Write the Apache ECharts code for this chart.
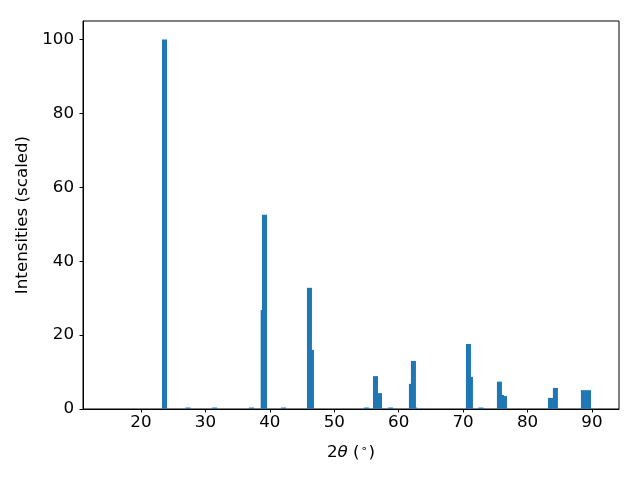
<!DOCTYPE html>
<html>
<head>
<meta charset="utf-8">
<script src="https://cdn.jsdelivr.net/npm/echarts@6/dist/echarts.min.js"></script>
<style>html,body{margin:0;padding:0;background:#fff}#c{width:640px;height:480px}</style>
</head>
<body>
<div id="c"></div>
<script>
var twoTheta = [23.65, 27.3, 31.4, 37.15, 38.97, 39.17, 42.13, 46.15, 46.46, 55.0, 56.4, 57.02, 58.74, 61.98, 62.29, 62.45, 70.83, 71.14, 72.77, 75.64, 75.95, 76.42, 83.56, 84.33, 88.68, 89.46];
var intensity = [100, 0.4, 0.4, 0.4, 26.8, 52.6, 0.4, 32.8, 16.0, 0.4, 8.9, 4.3, 0.4, 6.8, 13.0, 0.4, 17.6, 8.7, 0.4, 7.4, 3.8, 3.5, 3.0, 5.7, 5.1, 5.1];
var xTicks = [20, 30, 40, 50, 60, 70, 80, 90];
var yTicks = [0, 20, 40, 60, 80, 100];

var BAR_W = 0.78;
var idx = twoTheta.map(function (_, i) { return i; });
idx.sort(function (a, b) { return intensity[a] - intensity[b]; });
var data = idx.map(function (i) { return [twoTheta[i], intensity[i]]; });

var font = 'DejaVu Sans';
var FS = 16.7;
var chart = echarts.init(document.getElementById('c'), null, {renderer: 'canvas'});
chart.setOption({
  animation: false,
  backgroundColor: '#fff',
  grid: {left: 83, right: 21, top: 21, bottom: 71, show: true, borderColor: '#000', borderWidth: 1, backgroundColor: 'transparent'},
  xAxis: {
    type: 'value', min: 11.0, max: 94.2,
    splitLine: {show: false},
    axisLine: {show: true, onZero: false, lineStyle: {color: '#000', width: 1}},
    axisTick: {show: true, length: 3.5, lineStyle: {color: '#000'}, customValues: xTicks},
    axisLabel: {color: '#000', fontFamily: font, fontSize: FS, margin: 5, customValues: xTicks},
    name: '2{i|θ} ({s|∘})',
    nameLocation: 'middle', nameGap: 35,
    nameTextStyle: {color: '#000', fontFamily: font, fontSize: FS,
      rich: {i: {fontStyle: 'italic', fontFamily: font, fontSize: FS, color: '#000'},
             s: {fontFamily: font, fontSize: 11, color: '#000', verticalAlign: 'top', padding: [0, 1, 7, 1]}}}
  },
  yAxis: {
    type: 'value', min: 0, max: 105,
    splitLine: {show: false},
    axisLine: {show: true, lineStyle: {color: '#000', width: 1}},
    axisTick: {show: true, length: 3.5, lineStyle: {color: '#000'}, customValues: yTicks},
    axisLabel: {color: '#000', fontFamily: font, fontSize: FS, margin: 9, customValues: yTicks},
    name: 'Intensities (scaled)',
    nameLocation: 'middle', nameGap: 48,
    nameTextStyle: {color: '#000', fontFamily: font, fontSize: FS}
  },
  series: [{
    type: 'custom',
    data: data,
    encode: {x: 0, y: 1},
    renderItem: function (params, api) {
      var x = api.value(0), y = api.value(1);
      var p0 = api.coord([x - BAR_W / 2, y]);
      var p1 = api.coord([x + BAR_W / 2, 0]);
      return {type: 'rect', shape: {x: p0[0], y: p0[1], width: p1[0] - p0[0], height: p1[1] - p0[1]},
              style: {fill: '#1f77b4'}};
    }
  }]
});
</script>
</body>
</html>
